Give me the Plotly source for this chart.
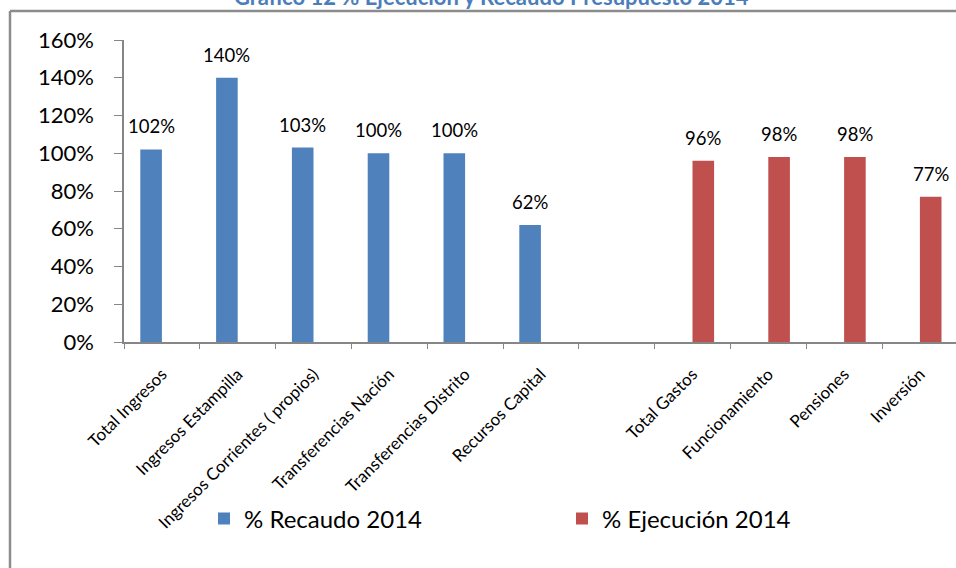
import plotly.graph_objects as go

categories = ["Total Ingresos", "Ingresos Estampilla", "Ingresos Corrientes ( propios)",
              "Transferencias Nación", "Transferencias Distrito", "Recursos Capital", " ",
              "Total Gastos", "Funcionamiento", "Pensiones", "Inversión"]
recaudo = [1.02, 1.40, 1.03, 1.00, 1.00, 0.62, None, None, None, None, None]
ejecucion = [None, None, None, None, None, None, None, 0.96, 0.98, 0.98, 0.77]
y_ticks = [0, 0.2, 0.4, 0.6, 0.8, 1.0, 1.2, 1.4, 1.6]

BLUE = "#4F81BD"
RED = "#C0504D"
FONT = "Lato"

W, H = 956, 568
L, R, T, B = 124, 0, 40, 226
plot_w = W - L - R
plot_h = H - T - B
x_range = [-0.5, -0.5 + plot_w / 75.8]
bargap = 0.43
cat_px = plot_w / (x_range[1] - x_range[0])
bar_px = cat_px * (1 - bargap) / 2

fig = go.Figure()
fig.add_trace(go.Bar(name="% Recaudo 2014", x=categories, y=recaudo,
                     marker=dict(color=BLUE, line=dict(width=0))))
fig.add_trace(go.Bar(name="% Ejecución 2014", x=categories, y=ejecucion,
                     marker=dict(color=RED, line=dict(width=0))))

annotations = []
for series, shift in ((recaudo, -bar_px / 2), (ejecucion, bar_px / 2)):
    for c, v in zip(categories, series):
        if v is None:
            continue
        annotations.append(dict(x=c, y=v, xref="x", yref="y", text=f"{round(v*100)}%",
                                showarrow=False, yanchor="bottom", xanchor="center",
                                xshift=shift, yshift=10,
                                font=dict(family=FONT, size=18.5, color="#000000")))

annotations.append(dict(text="<b>Gráfico 12 % Ejecución y Recaudo Presupuesto 2014</b>",
                        xref="paper", yref="paper", x=(491 - L) / plot_w,
                        y=1 + (T - 12) / plot_h, xanchor="center", yanchor="bottom",
                        showarrow=False, font=dict(family=FONT, size=22, color="#4A7EBB")))

x_left = (10 - L) / plot_w
y_top = 1 + (T - 11) / plot_h
frame = dict(color="#8C8C8C", width=2.5)

fig.update_layout(
    width=W, height=H,
    margin=dict(l=L, r=R, t=T, b=B, pad=0, autoexpand=False),
    paper_bgcolor="white", plot_bgcolor="white",
    barmode="group", bargap=bargap, bargroupgap=0,
    font=dict(family=FONT, color="#000000"),
    showlegend=True,
    legend=dict(orientation="h", xref="container", yref="container",
                x=204 / W, y=1 - 519 / H, xanchor="left", yanchor="middle",
                entrywidth=313, entrywidthmode="pixels",
                font=dict(family=FONT, size=24, color="#000000"),
                bgcolor="rgba(0,0,0,0)"),
    annotations=annotations,
    shapes=[dict(type="line", xref="paper", yref="paper",
                 x0=x_left, x1=x_left, y0=-1.0, y1=y_top, line=frame),
            dict(type="line", xref="paper", yref="paper",
                 x0=x_left, x1=1.2, y0=y_top, y1=y_top, line=frame)],
)

fig.update_xaxes(type="category", categoryorder="array", categoryarray=categories,
                 range=x_range, showgrid=False, zeroline=False, automargin=False,
                 showline=True, linecolor="#868686", linewidth=1.5, mirror=False,
                 ticks="outside", tickson="boundaries", ticklen=5, tickcolor="#868686",
                 tickangle=-45, ticklabelstandoff=14,
                 tickfont=dict(family=FONT, size=17, color="#000000"))
fig.update_yaxes(range=[0, 1.6], tickvals=y_ticks, tickformat=".0%",
                 showgrid=False, zeroline=False, automargin=False,
                 showline=True, linecolor="#868686", linewidth=1.5, mirror=False,
                 ticks="outside", ticklen=8, tickcolor="#868686",
                 ticklabelstandoff=16,
                 tickfont=dict(family=FONT, size=22, color="#000000"))

fig.write_html("out.html", config={"displayModeBar": False},
               post_script="document.body.style.margin='0';"
                           "document.documentElement.style.overflow='hidden';"
                           "document.body.style.overflow='hidden';")
